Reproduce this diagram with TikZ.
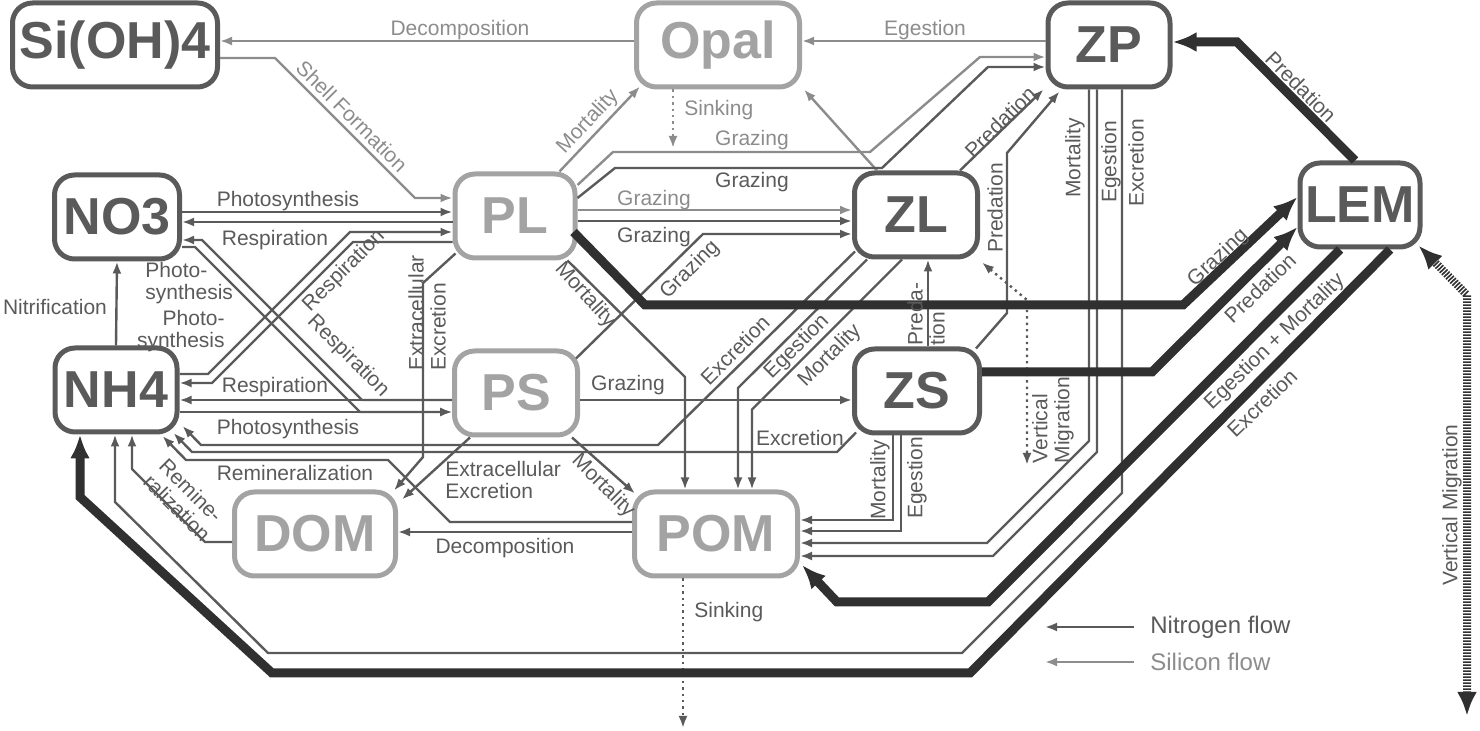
\documentclass[tikz,border=0pt]{standalone}
\usepackage{fontspec}
\setmainfont{Liberation Sans}
\usetikzlibrary{arrows.meta,calc}
\definecolor{ncol}{RGB}{90,90,90}
\definecolor{scol}{RGB}{140,140,140}
\definecolor{spoolc}{RGB}{163,163,163}
\definecolor{lemcol}{RGB}{48,48,48}

\begin{document}
\begin{tikzpicture}[x=0.5pt, y=-0.5pt,
  pool/.style={rounded corners=10pt, line width=2.5pt, minimum height=42pt, inner sep=0pt,
               font=\fontsize{26}{28}\selectfont\bfseries},
  npool/.style={pool, draw=ncol, text=ncol},
  spool/.style={pool, draw=spoolc, text=spoolc},
  nflow/.style={draw=ncol, line width=1.2pt, -{Latex[length=6pt,width=4.5pt]}},
  sflow/.style={draw=scol, line width=1.2pt, -{Latex[length=6pt,width=4.5pt]}},
  lemflow/.style={draw=lemcol, line width=4.5pt, -{Latex[length=12pt,width=10pt]}},
  nmig/.style={draw=ncol, line width=1.2pt, dotted, {Latex[length=6pt,width=4.5pt]}-{Latex[length=6pt,width=4.5pt]}},
  lemmig/.style={draw=lemcol, line width=4pt, dash pattern=on 0.8pt off 0.7pt,
                 {Latex[length=12pt,width=10pt]}-{Latex[length=12pt,width=10pt]}},
  lbl/.style={font=\fontsize{10.5}{11}\selectfont, text=ncol, inner sep=1pt},
  slbl/.style={lbl, text=scol},
]
\useasboundingbox (0,0) rectangle (1480,731);

% pools
\node[npool, minimum width=102.5pt] (SiOH) at (115,45) {Si(OH)4};
\node[spool, minimum width=81.5pt] (Opal) at (718,45) {Opal};
\node[npool, minimum width=61pt] (ZP) at (1109,45) {ZP};
\node[npool, minimum width=62.5pt] (NO3) at (117,217) {NO3};
\node[spool, minimum width=60pt] (PL) at (515,216) {PL};
\node[npool, minimum width=61.5pt] (ZL) at (916,215) {ZL};
\node[npool, minimum width=60pt] (LEM) at (1360,205) {LEM};
\node[npool, minimum width=61pt] (NH4) at (116,390) {NH4};
\node[spool, minimum width=61.5pt] (PS) at (516,393) {PS};
\node[npool, minimum width=62.5pt] (ZS) at (917,391) {ZS};
\node[spool, minimum width=80.5pt] (DOM) at (315,534) {DOM};
\node[spool, minimum width=81.5pt] (POM) at (716,534) {POM};

% free ends
\coordinate (opalsink) at (673,148);
\coordinate (pomsink) at (683,728);
\coordinate (zlmig) at (1027,465);
\coordinate (lemmigend) at (1467,716);

% silicon flows
\draw[sflow] (Opal.west |- 0,41) -- (SiOH.east |- 0,41);
\draw[sflow] (SiOH.east |- 0,58) -- (275,58) -- (415,198) -- (PL.west |- 0,198);
\draw[sflow] (PL.45) -- ($(Opal.south west)+(6,-3)$);
\draw[sflow, dotted] (Opal.south -| 673,0) -- (opalsink);
\draw[sflow] ($(PL.east)+(0,-31)$) -- (613,152) -- (870,152) -- (980,57) -- (ZP.west |- 0,57);
\draw[sflow] (PL.east |- 0,210) -- (ZL.west |- 0,210);
\draw[sflow] ($(ZL.north west)+(25,0)$) -- ($(Opal.south east)+(2,0)$);
\draw[sflow] (ZP.west |- 0,41) -- (Opal.east |- 0,41);

% nutrients <-> phytoplankton
\draw[nflow] (NH4.north) -- (NO3.south);
\draw[nflow] (NO3.east |- 0,212) -- (PL.west |- 0,212);
\draw[nflow] (PL.west |- 0,222) -- (NO3.east |- 0,222);
\draw[nflow] (NO3.east |- 0,247) -- (195,247) -- (360,412) -- (PS.west |- 0,412);
\draw[nflow] (PS.west |- 0,400) -- (362,400) -- (202,240) -- (NO3.east |- 0,240);
\draw[nflow] (NH4.east |- 0,374) -- (208,374) -- (350,232) -- (PL.west |- 0,232);
\draw[nflow] (PL.west |- 0,242) -- (353,242) -- (212,383) -- (NH4.east |- 0,383);
\draw[nflow] (PS.west |- 0,400) -- (NH4.east |- 0,400);
\draw[nflow] (NH4.east |- 0,412) -- (PS.west |- 0,412);

% grazing
\draw[nflow] ($(PL.east)+(0,-18)$) -- (615,168) -- (882,168) -- (988,67) -- (ZP.west |- 0,67);
\draw[nflow] (PL.east |- 0,221) -- (ZL.west |- 0,221);
\draw[nflow] ($(PS.north east)+(-4,10)$) -- (703,234) -- (ZL.west |- 0,234);
\draw[nflow] (PS.east |- 0,400) -- (ZS.west |- 0,400);

% phytoplankton -> detritus
\draw[nflow] ($(PL.south west)+(3,-7)$) -- (423,283) -- (423,457) -- ($(DOM.north east)+(-4,1)$);
\draw[nflow] ($(PS.south west)+(18,0)$) -- ($(DOM.north east)+(4,10)$);
\draw[nflow] ($(PS.south east)+(-8,0)$) -- ($(POM.north west)+(3,4)$);
\draw[nflow] ($(PL.south east)+(-10,0)$) -- (685,377) -- (POM.north -| 685,0);

% detritus
\draw[nflow] (POM.west |- 0,532) -- (DOM.east |- 0,532);
\draw[nflow] (POM.west |- 0,522) -- (450,522) -- (388,460) -- (186,460) -- ($(NH4.south east)+(-17,1.5)$);
\draw[nflow] (DOM.west |- 0,542) -- (205,542) -- (132,469) -- (NH4.south -| 132,0);
\draw[nflow, dotted] (POM.south -| 683,0) -- (pomsink);

% ZS and ZL
\draw[nflow] (ZS.north -| 928,0) -- (ZL.south -| 928,0);
\draw[nflow] ($(ZS.north east)+(-6,2)$) -- (1007,313) -- (1007,153) -- ($(ZP.south west)+(14,2)$);
\draw[nflow] ($(ZL.north east)+(-20,0)$) -- ($(ZP.south west)+(-2,0)$);
\draw[nflow] (ZS.south -| 893,0) -- (893,520) -- (POM.east |- 0,520);
\draw[nflow] (ZS.south -| 901,0) -- (901,531) -- (POM.east |- 0,531);
\draw[nflow] ($(ZS.south west)+(4,-3)$) -- (837,452) -- (192,452) -- ($(NH4.south east)+(-6,-1.5)$);
\draw[nflow] ($(ZL.south west)+(3,-8)$) -- (658,445) -- (201,445) -- ($(NH4.south east)+(3,-8.5)$);
\draw[nflow] ($(ZL.south west)+(15,0)$) -- (738,388) -- (POM.north -| 738,0);
\draw[nflow] ($(ZL.south west)+(50,0)$) -- (752,409.5) -- (POM.north -| 752,0);
\draw[nmig] ($(ZL.south east)+(2,3)$) -- (1027,300) -- (zlmig);

% ZP
\draw[nflow] (ZP.south -| 1089,0) -- (1089,441) -- (987,543) -- (POM.east |- 0,543);
\draw[nflow] (ZP.south -| 1097,0) -- (1097,452) -- (993,556) -- (POM.east |- 0,556);
\draw[nflow] (ZP.south -| 1122,0) -- (1122,493) -- (962,653) -- (268,653) -- (115,502) -- (NH4.south -| 115,0);

% LEM
\draw[lemflow] ($(PL.east)+(-4,16)$) -- (645,305) -- (1183,305) -- (LEM.west |- 0,197);
\draw[lemflow] (ZS.east |- 0,372) -- (1152,372) -- (LEM.west |- 0,227);
\draw[lemflow] (LEM.north -| 1355,0) -- (1237,42) -- (ZP.east |- 0,42);
\draw[lemflow] (LEM.south -| 1340,0) -- (988,602) -- (837,602) -- ($(POM.east)+(2,31)$);
\draw[lemflow] (LEM.south -| 1390,0) -- (970,673) -- (272,673) -- (80,497) -- (NH4.south -| 80,0);
\draw[lemmig] ($(LEM.south east)+(-4,-4)$) -- (1467,295) -- (lemmigend);

% labels
\node[slbl] (lDecSi) at (460,30) {Decomposition};
\node[slbl] (lEgeSi) at (925,30) {Egestion};
\node[slbl, rotate=-45] (lShell) at (352,116) {Shell Formation};
\node[slbl, rotate=47] (lMorSi) at (588,122) {Mortality};
\node[slbl, anchor=west] (lSinkSi) at (682,110) {Sinking};
\node[slbl] (lGrzZPs) at (752,140) {Grazing};
\node[lbl] (lGrzZPn) at (752,182) {Grazing};
\node[slbl] (lGrzZLs) at (654,200) {Grazing};
\node[lbl] (lGrzZLn) at (654,237) {Grazing};
\node[lbl, rotate=45] (lGrzPS) at (690,270) {Grazing};
\node[lbl] (lGrzZS) at (628,385) {Grazing};
\node[lbl, rotate=45] (lPredZL) at (1000,122) {Predation};
\node[lbl, rotate=90] (lPredZS) at (995,208) {Predation};
\node[lbl, rotate=90] (lMorZP) at (1075,158) {Mortality};
\node[lbl, rotate=90] (lEgeZP) at (1111,162) {Egestion};
\node[lbl, rotate=90] (lExcZP) at (1136,163) {Excretion};
\node[lbl, rotate=-45] (lPredLEM) at (1301,87) {Predation};
\node[lbl, rotate=43] (lGrzLEM) at (1218,258) {Grazing};
\node[lbl, rotate=44] (lPredZSL) at (1260,288) {Predation};
\node[lbl, rotate=44] (lEgeLEM) at (1275,342) {Egestion + Mortality};
\node[lbl, rotate=44] (lExcLEM) at (1262,403) {Excretion};
\node[lbl, rotate=90] (lMigLEM) at (1452,505) {Vertical Migration};
\node[lbl, rotate=90, align=left] (lMigZL) at (1053,420) {Vertical\\Migration};
\node[lbl, rotate=90, align=left] (lPredZSZL) at (926,314) {Preda-\\tion};
\node[lbl, rotate=45] (lExcZL) at (735,350) {Excretion};
\node[lbl, rotate=45] (lEgeZL) at (797,347) {Egestion};
\node[lbl, rotate=45] (lMorZL) at (830,356) {Mortality};
\node[lbl] (lExcZS) at (800,438) {Excretion};
\node[lbl, rotate=90] (lMorZS) at (880,480) {Mortality};
\node[lbl, rotate=90] (lEgeZS) at (917,478) {Egestion};
\node[lbl, rotate=90, align=left] (lExtPL) at (427,313) {Extracellular\\Excretion};
\node[lbl, rotate=-48] (lMorPL) at (585,295) {Mortality};
\node[lbl, rotate=-45] (lMorPS) at (603,486) {Mortality};
\node[lbl, align=left, anchor=west] (lExtPS) at (443,480) {Extracellular\\Excretion};
\node[lbl] (lDecN) at (505,548) {Decomposition};
\node[lbl] (lRemPOM) at (295,473) {Remineralization};
\node[lbl, rotate=-45, align=left] (lRemDOM) at (185,500) {Remine-\\ralization};
\node[lbl, anchor=west] (lSinkN) at (692,612) {Sinking};
\node[lbl] (lNitr) at (55,307) {Nitrification};
\node[lbl] (lPhoNO3PL) at (288,201) {Photosynthesis};
\node[lbl] (lResPLNO3) at (275,240) {Respiration};
\node[lbl, align=left, anchor=west] (lPhoNO3PS) at (143,283) {Photo-\\synthesis};
\node[lbl, align=right, anchor=east] (lPhoNH4PL) at (227,331) {Photo-\\synthesis};
\node[lbl, rotate=45] (lResPLNH4) at (344,271) {Respiration};
\node[lbl, rotate=-45] (lResPSNO3) at (348,356) {Respiration};
\node[lbl] (lResPSNH4) at (275,387) {Respiration};
\node[lbl] (lPhoNH4PS) at (288,429) {Photosynthesis};

% legend
\node[lbl, font=\fontsize{12}{13}\selectfont, anchor=west] (legN) at (1148,627) {Nitrogen flow};
\node[slbl, font=\fontsize{12}{13}\selectfont, anchor=west] (legS) at (1148,662) {Silicon flow};
\coordinate (legNtip) at (1045,627);
\coordinate (legStip) at (1045,662);
\draw[nflow] ($(legN.west)+(-14,0)$) -- (legNtip);
\draw[sflow] ($(legS.west)+(-14,0)$) -- (legStip);

\end{tikzpicture}
\end{document}
